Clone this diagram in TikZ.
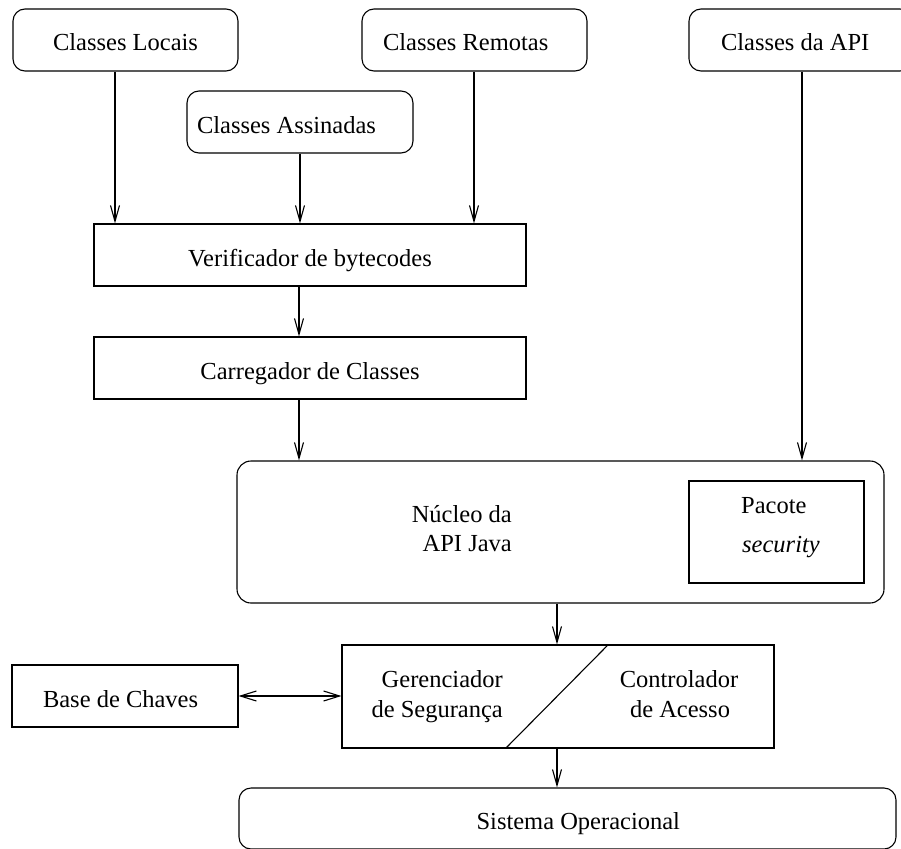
\documentclass[tikz,border=0pt]{standalone}
\usepackage{fontspec}
\setmainfont{Liberation Serif}
\usetikzlibrary{arrows.meta}
\begin{document}
\begin{tikzpicture}[x=1pt,y=-1pt,
  every node/.style={font=\fontsize{24.5}{29}\selectfont, inner sep=0pt},
  box/.style={draw, line width=1.1pt, text height=22pt, text depth=0pt},
  rbox/.style={box, rounded corners=12pt},
  txt/.style={inner sep=0pt},
  arr/.style={line width=1.1pt, -{Straight Barb[length=16pt,width=9pt]}},
  biarr/.style={line width=1.1pt, {Straight Barb[length=16pt,width=10pt]}-{Straight Barb[length=16pt,width=10pt]}},
  part/.style={line width=1.1pt}]

\useasboundingbox (0,0) rectangle (901,848);
\clip (0,0) rectangle (901,848);

% class sources
\node[rbox, minimum width=225pt, minimum height=62pt] (locais) at (125.5,40) {Classes Locais};
\node[rbox, minimum width=225pt, minimum height=62pt] (remotas) at (474.5,40) {\makebox[183pt][l]{Classes Remotas}};
\node[rbox, minimum width=223pt, minimum height=62pt] (api) at (800.5,40) {\makebox[159pt][l]{Classes da API}};
\node[rbox, minimum width=226pt, minimum height=62pt] (assin) at (300,122) {\makebox[206pt][l]{Classes Assinadas}};

% verification and loading
\node[box, minimum width=432pt, minimum height=62pt] (verif) at (310,255) {Verificador de bytecodes};
\node[box, minimum width=432pt, minimum height=62pt] (carreg) at (310,368) {Carregador de Classes};

% Java API core with the security package
\node[draw, line width=1.1pt, rounded corners=14pt, minimum width=647pt, minimum height=142pt] (nucleo) at (560.5,532) {};
\node[txt, anchor=base east] (nucleoA) at (512,522) {Núcleo da};
\node[txt, anchor=base east] (nucleoB) at (512,551) {API Java};
\node[draw, line width=1.1pt, minimum width=175pt, minimum height=102pt] (pacote) at (776.5,532) {};
\node[txt, anchor=base west] (pacoteA) at (741,513) {Pacote};
\node[txt, anchor=base west] (pacoteB) at (742,552) {\itshape security};

% security manager / access controller
\node[draw, line width=1.1pt, minimum width=432pt, minimum height=103pt] (ger) at (558,696.5) {};
\draw[part] ([xshift=267pt]ger.north west) -- ([xshift=164pt]ger.south west);
\node[txt, anchor=base east] (gerA) at (503,687) {Gerenciador};
\node[txt, anchor=base east] (gerB) at (503,717) {de Segurança};
\node[txt, anchor=base] (conA) at (679,687) {Controlador};
\node[txt, anchor=base] (conB) at (680,717) {de Acesso};

% key store and operating system
\node[box, minimum width=226pt, minimum height=62pt] (base) at (125,696) {\makebox[164pt][l]{Base de Chaves}};
\node[rbox, minimum width=657pt, minimum height=61pt] (sis) at (567.5,818.5) {\makebox[225pt][r]{Sistema Operacional}};

% connectors
\draw[arr] (locais.south -| 115,0) -- (verif.north -| 115,0);
\draw[arr] (assin.south -| 300,0) -- (verif.north -| 300,0);
\draw[arr] (remotas.south -| 474,0) -- (verif.north -| 474,0);
\draw[arr] (api.south -| 802,0) -- (nucleo.north -| 802,0);
\draw[arr] (verif.south -| 299,0) -- (carreg.north -| 299,0);
\draw[arr] (carreg.south -| 299,0) -- (nucleo.north -| 299,0);
\draw[arr] (nucleo.south -| 557,0) -- (ger.north -| 557,0);
\draw[arr] (ger.south -| 557,0) -- (sis.north -| 557,0);
\draw[biarr] (base.east) -- (ger.west |- base.east);
\end{tikzpicture}
\end{document}
